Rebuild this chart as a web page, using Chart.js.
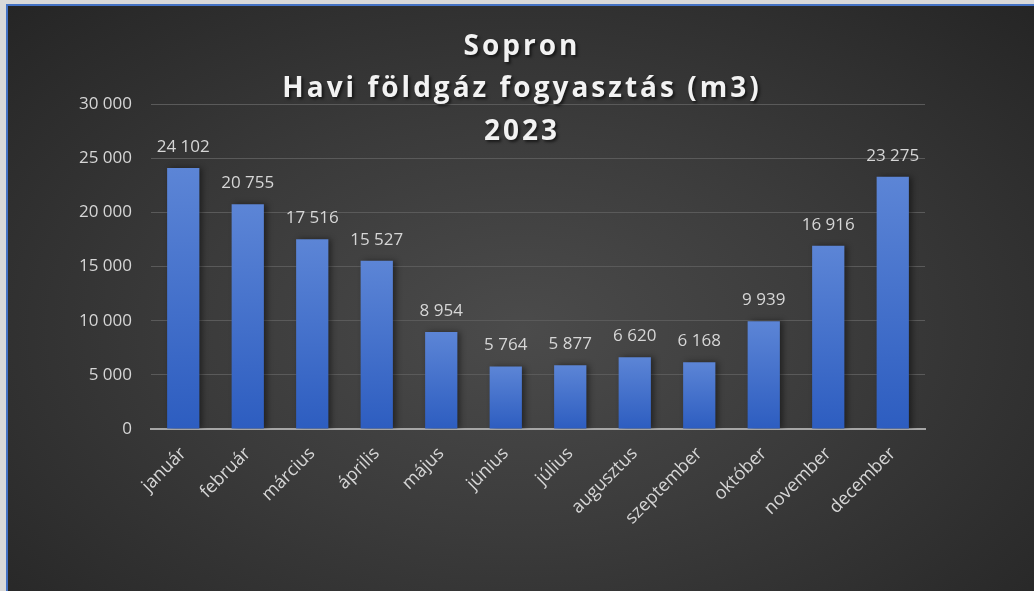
<!DOCTYPE html>
<html>
<head>
<meta charset="utf-8">
<script src="https://cdn.jsdelivr.net/npm/chart.js@4"></script>
<style>
  html, body { margin: 0; padding: 0; background: #d9d9d9; overflow: hidden; }
  #frame {
    position: absolute; left: 6px; top: 4px;
    width: 1028px; height: 587px;
    border-left: 2px solid #4472c4; border-top: 2px solid #4472c4;
    background: radial-gradient(ellipse at 50% 55%, #4b4b4b 0%, #3b3b3b 45%, #252525 100%);
  }
  #wrap { position: relative; width: 1026px; height: 585px; }
</style>
</head>
<body>
<div id="frame"><div id="wrap"><canvas id="gas-chart"></canvas></div></div>
<script>
var months = ["január", "február", "március", "április", "május", "június",
  "július", "augusztus", "szeptember", "október", "november", "december"];
var consumption = [24102, 20755, 17516, 15527, 8954, 5764, 5877, 6620, 6168, 9939, 16916, 23275];
var titleLines = ["Sopron", "Havi földgáz fogyasztás (m3)", "2023"];
var yTicks = [0, 5000, 10000, 15000, 20000, 25000, 30000];

function fmt(n) {
  return String(n).replace(/\B(?=(\d{3})+(?!\d))/g, "\u00a0");
}

var textColor = "#d6d6d6";

// bar shadow + value labels + title drawn over the plot
var decor = {
  id: "decor",
  beforeDatasetsDraw: function (chart) {
    var c = chart.ctx;
    c.save();
    c.shadowColor = "rgba(0,0,0,0.45)";
    c.shadowBlur = 6;
    c.shadowOffsetX = 3;
  },
  afterDatasetsDraw: function (chart) {
    var c = chart.ctx;
    c.restore();
    c.save();
    c.font = "17px 'Open Sans'";
    c.fillStyle = textColor;
    c.textAlign = "center";
    c.textBaseline = "middle";
    chart.getDatasetMeta(0).data.forEach(function (bar, i) {
      c.fillText(fmt(consumption[i]), bar.x, bar.y - 21);
    });
    c.restore();
  },
  afterDraw: function (chart) {
    var c = chart.ctx;
    c.save();
    c.font = "bold 28px 'Open Sans'";
    c.letterSpacing = "3px";
    c.textAlign = "center";
    c.textBaseline = "middle";
    c.fillStyle = "#f2f2f2";
    c.shadowColor = "rgba(0,0,0,0.6)";
    c.shadowBlur = 3;
    c.shadowOffsetX = 2;
    c.shadowOffsetY = 2;
    var cx = chart.width / 2 + 1;
    titleLines.forEach(function (t, i) {
      c.fillText(t, cx, 41 + i * 42.5);
    });
    c.restore();
  }
};

var ctx = document.getElementById("gas-chart").getContext("2d");
new Chart(ctx, {
  type: "bar",
  data: {
    labels: months,
    datasets: [{
      data: consumption,
      backgroundColor: function (context) {
        var chart = context.chart;
        if (!chart.chartArea || !context.parsed) return "#4472c4";
        var y = chart.scales.y;
        var g = chart.ctx.createLinearGradient(0, y.getPixelForValue(context.parsed.y), 0, y.getPixelForValue(0));
        g.addColorStop(0, "#5c85d6");
        g.addColorStop(1, "#2d5dc0");
        return g;
      },
      borderWidth: 0,
      categoryPercentage: 1,
      barPercentage: 0.5
    }]
  },
  options: {
    responsive: true,
    maintainAspectRatio: false,
    animation: false,
    layout: { padding: { left: 0, right: 109, top: 98, bottom: 0 } },
    plugins: {
      legend: { display: false },
      title: { display: false },
      tooltip: { enabled: false }
    },
    scales: {
      x: {
        grid: { display: false },
        border: { display: true, color: "#a6a6a6", width: 2 },
        ticks: {
          color: textColor,
          font: { family: "'Open Sans'", size: 18 },
          maxRotation: 45,
          minRotation: 45,
          autoSkip: false,
          padding: 6
        },
        afterFit: function (scale) { scale.height = 162; }
      },
      y: {
        min: 0,
        max: 30000,
        afterBuildTicks: function (scale) {
          scale.ticks = yTicks.map(function (v) { return { value: v }; });
        },
        grid: { color: "#5a5a5a", lineWidth: 1, drawTicks: false },
        border: { display: false },
        ticks: {
          color: textColor,
          font: { family: "'Open Sans'", size: 17 },
          padding: 19,
          callback: function (v) { return fmt(v); }
        },
        afterFit: function (scale) { scale.width = 143; }
      }
    }
  },
  plugins: [decor]
});
</script>
</body>
</html>
